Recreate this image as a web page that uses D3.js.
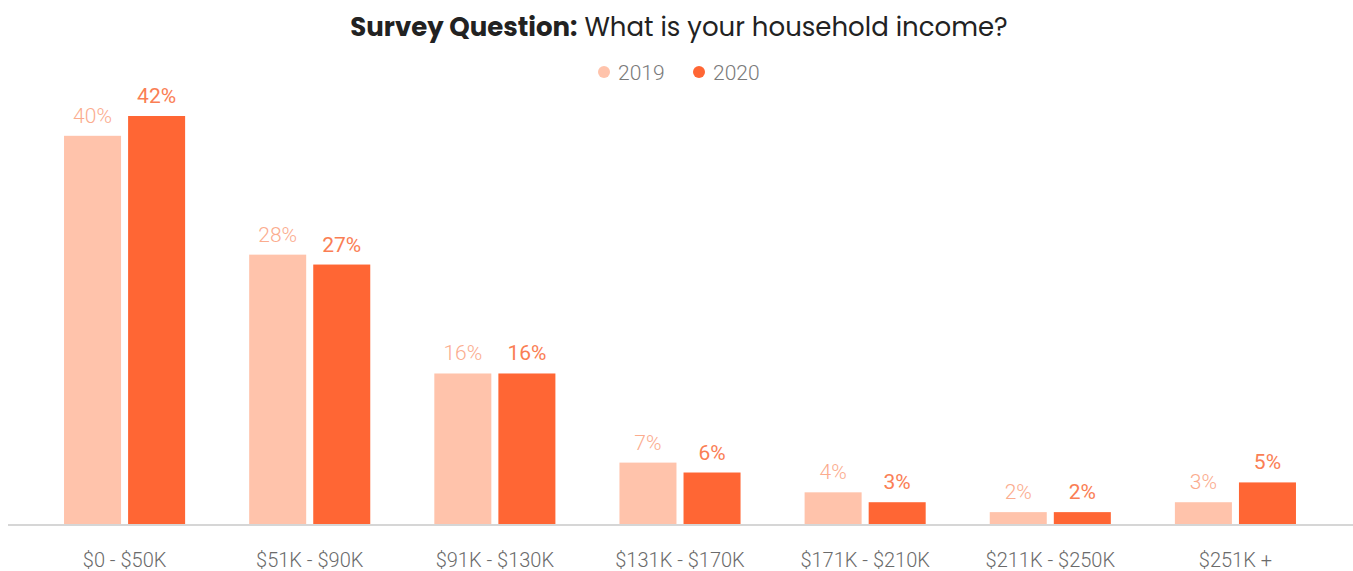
<!DOCTYPE html>
<html>
<head>
<meta charset="utf-8">
<script src="https://cdn.jsdelivr.net/npm/d3@7"></script>
<style>
  html, body { margin: 0; padding: 0; background: #fff; }
  svg { display: block; }
</style>
</head>
<body>
<svg id="chart" width="1353" height="571"></svg>
<script>
// Household income brackets and the share of respondents in each (percent)
const categories = ["$0 - $50K", "$51K - $90K", "$91K - $130K", "$131K - $170K", "$171K - $210K", "$211K - $250K", "$251K +"];
const series = ["2019", "2020"];
const values2019 = [40, 28, 16, 7, 4, 2, 3];
const values2020 = [42, 27, 16, 6, 3, 2, 5];

const colors = { "2019": "#ffc3ab", "2020": "#ff6634" };
const labelColors = { "2019": "#fbac8e", "2020": "#fa7e54" };

const W = 1353, H = 571;
const baseline = 525;

const svg = d3.select("#chart");

const rows = categories.map((c, i) => ({
  category: c,
  values: [
    { key: "2019", value: values2019[i] },
    { key: "2020", value: values2020[i] }
  ]
}));

const x0 = d3.scaleBand()
  .domain(categories)
  .range([32, 1328])
  .paddingInner(0.346)
  .paddingOuter(0.173);

const x1 = d3.scaleBand()
  .domain(series)
  .range([0, x0.bandwidth()])
  .paddingInner(0.11);

const y = d3.scaleLinear()
  .domain([0.7, 42])
  .range([baseline, 116]);

// Title
const title = svg.append("text")
  .attr("x", 679)
  .attr("y", 36)
  .attr("text-anchor", "middle")
  .style("font-family", "Poppins, Lato, 'Open Sans', sans-serif")
  .style("font-size", "26px")
  .style("fill", "#222");
title.append("tspan").style("font-weight", 700).text("Survey Question:");
title.append("tspan").style("font-weight", 400).text(" What is your household income?");

// Legend
const legend = svg.append("g").attr("transform", "translate(0,72)");
const legendItems = [{ key: "2019", x: 604 }, { key: "2020", x: 699 }];
legendItems.forEach(d => {
  legend.append("circle").attr("cx", d.x).attr("cy", 0).attr("r", 6).attr("fill", colors[d.key]);
  legend.append("text")
    .attr("x", d.x + 14).attr("y", 7.5)
    .style("font-family", "Roboto, sans-serif")
    .style("font-weight", 300)
    .style("font-size", "21px")
    .style("fill", "#7a7a7a")
    .text(d.key);
});

// Bars
const groups = svg.append("g").selectAll("g")
  .data(rows)
  .join("g")
  .attr("transform", d => `translate(${x0(d.category)},0)`);

groups.selectAll("rect")
  .data(d => d.values)
  .join("rect")
  .attr("x", d => x1(d.key))
  .attr("y", d => y(d.value))
  .attr("width", x1.bandwidth())
  .attr("height", d => baseline + 1 - y(d.value))
  .attr("fill", d => colors[d.key]);

// Value labels
groups.selectAll("text")
  .data(d => d.values)
  .join("text")
  .attr("x", d => x1(d.key) + x1.bandwidth() / 2)
  .attr("y", d => y(d.value) - 13)
  .attr("text-anchor", "middle")
  .style("font-family", "Roboto, sans-serif")
  .style("font-weight", d => d.key === "2019" ? 300 : 400)
  .style("font-size", "21px")
  .style("fill", d => labelColors[d.key])
  .text(d => d.value + "%");

// Baseline
svg.append("line")
  .attr("x1", 8).attr("x2", W)
  .attr("y1", baseline).attr("y2", baseline)
  .attr("stroke", "#d6d6d6")
  .attr("stroke-width", 2);

// Category axis
const xAxis = svg.append("g")
  .attr("transform", `translate(0,${baseline})`)
  .call(d3.axisBottom(x0).tickSize(0).tickPadding(28));
xAxis.select(".domain").remove();
xAxis.selectAll("text")
  .style("font-family", "Roboto, sans-serif")
  .style("font-weight", 300)
  .style("font-size", "20px")
  .style("fill", "#6b6b6b");
</script>
</body>
</html>
